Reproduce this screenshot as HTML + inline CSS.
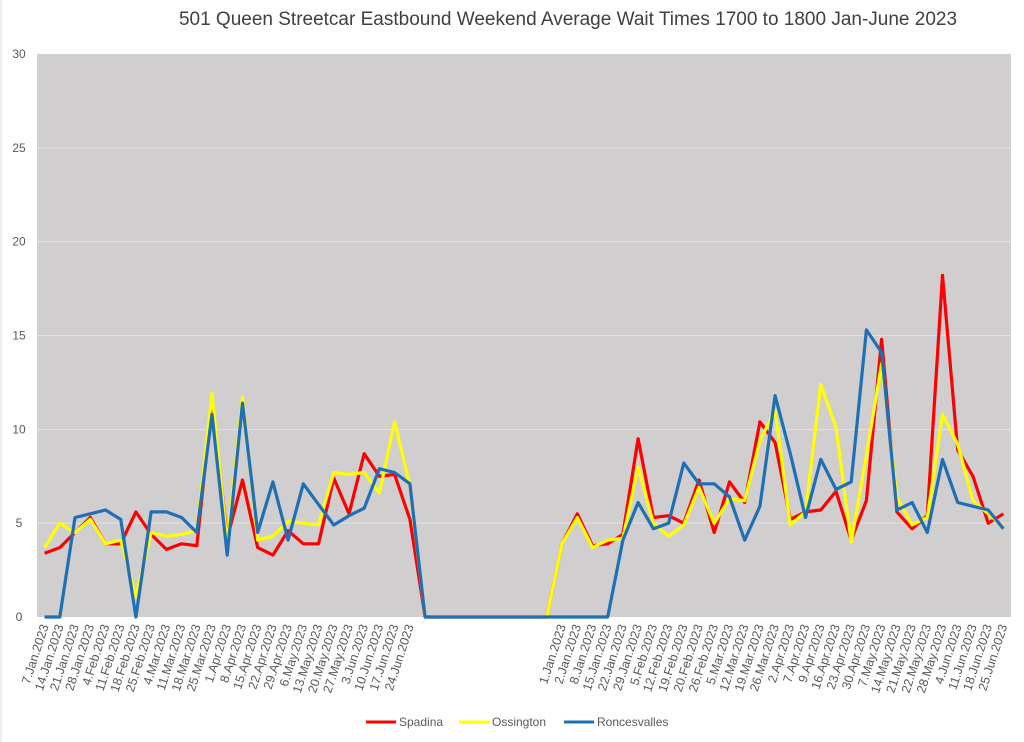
<!DOCTYPE html>
<html><head><meta charset="utf-8"><style>
html,body{margin:0;padding:0;background:#fff;}
svg{display:block;font-family:"Liberation Sans",sans-serif;}
</style></head><body>
<svg id="chart" width="1024" height="742" viewBox="0 0 1024 742">
<rect x="0" y="0" width="1024" height="742" fill="#fff"/>
<line x1="1" y1="0" x2="1" y2="742" stroke="#d9d9d9" stroke-width="1"/>
<text x="568" y="25" text-anchor="middle" font-size="19" fill="#404040">501 Queen Streetcar Eastbound Weekend Average Wait Times 1700 to 1800 Jan-June 2023</text>
<rect x="37" y="54" width="974" height="563" fill="#d0cece"/>
<g id="grid"></g>
<g id="yticks"></g>
<g id="xticks"></g>
<g id="series"></g>
<g>
 <g><line x1="366" y1="722" x2="396" y2="722" stroke="#ff0000" stroke-width="3"/><text x="399" y="726" font-size="12" fill="#595959">Spadina</text></g>
 <g><line x1="459" y1="722" x2="489" y2="722" stroke="#ffff00" stroke-width="3"/><text x="492" y="726" font-size="12" fill="#595959">Ossington</text></g>
 <g><line x1="564" y1="722" x2="594" y2="722" stroke="#1f6fb5" stroke-width="3"/><text x="597" y="726" font-size="12" fill="#595959">Roncesvalles</text></g>
</g>
</svg>
<script>
const categories = ["7.Jan.2023","14.Jan.2023","21.Jan.2023","28.Jan.2023","4.Feb.2023","11.Feb.2023","18.Feb.2023","25.Feb.2023","4.Mar.2023","11.Mar.2023","18.Mar.2023","25.Mar.2023","1.Apr.2023","8.Apr.2023","15.Apr.2023","22.Apr.2023","29.Apr.2023","6.May.2023","13.May.2023","20.May.2023","27.May.2023","3.Jun.2023","10.Jun.2023","17.Jun.2023","24.Jun.2023",
"","","","","","","","","",
"1.Jan.2023","2.Jan.2023","8.Jan.2023","15.Jan.2023","22.Jan.2023","29.Jan.2023","5.Feb.2023","12.Feb.2023","19.Feb.2023","20.Feb.2023","26.Feb.2023","5.Mar.2023","12.Mar.2023","19.Mar.2023","26.Mar.2023","2.Apr.2023","7.Apr.2023","9.Apr.2023","16.Apr.2023","23.Apr.2023","30.Apr.2023","7.May.2023","14.May.2023","21.May.2023","22.May.2023","28.May.2023","4.Jun.2023","11.Jun.2023","18.Jun.2023","25.Jun.2023"];
const spadina = [3.4,3.7,4.5,5.3,3.9,3.9,5.6,4.4,3.6,3.9,3.8,11.5,4.2,7.3,3.7,3.3,4.6,3.9,3.9,7.4,5.5,8.7,7.5,7.6,5.2,
0,0,0,0,0,0,0,0,0,
3.9,5.5,3.8,3.9,4.4,9.5,5.3,5.4,5.0,7.3,4.5,7.2,6.1,10.4,9.3,5.2,5.6,5.7,6.7,4.1,6.2,14.8,5.6,4.7,5.4,18.2,8.9,7.5,5.0,5.5];
const ossington = [3.7,5.0,4.5,5.2,3.9,4.1,1.1,4.5,4.3,4.4,4.6,11.9,3.9,11.7,4.1,4.3,5.1,5.0,4.9,7.7,7.6,7.7,6.6,10.4,7.0,
0,0,0,0,0,0,0,0,0,
3.9,5.3,3.7,4.1,4.2,8.0,5.0,4.3,4.9,6.9,5.0,6.3,6.2,9.4,11.0,4.9,5.6,12.4,10.1,4.0,8.6,13.5,6.4,4.9,5.3,10.8,9.2,6.2,5.5,4.8];
const roncesvalles = [0,0,5.3,5.5,5.7,5.2,0,5.6,5.6,5.3,4.5,10.8,3.3,11.4,4.5,7.2,4.1,7.1,6.0,4.9,5.4,5.8,7.9,7.7,7.1,
0,0,0,0,0,0,0,0,0,
0,0,0,0,4.1,6.1,4.7,5.0,8.2,7.1,7.1,6.4,4.1,5.9,11.8,8.7,5.3,8.4,6.8,7.2,15.3,14.1,5.7,6.1,4.5,8.4,6.1,5.9,5.7,4.7];
const yTicks = [0,5,10,15,20,25,30];

const NS="http://www.w3.org/2000/svg";
const X0=37, X1=1011, Y0=617, Y1=54, YMAX=30;
const step=(X1-X0)/categories.length;
function xScale(i){return X0+step*(i+0.5);}
function yScale(v){return Y0-(v/YMAX)*(Y0-Y1);}
function mk(tag,attrs,parent){const e=document.createElementNS(NS,tag);for(const k in attrs)e.setAttribute(k,attrs[k]);parent.appendChild(e);return e;}

const grid=document.getElementById('grid'), yt=document.getElementById('yticks'), xt=document.getElementById('xticks'), ser=document.getElementById('series');
yTicks.forEach(v=>{
  if(v>0&&v<YMAX){const l=mk('line',{x1:X0,x2:X1,y1:yScale(v),y2:yScale(v),stroke:'#e4e2e2','stroke-width':1},grid);
  
  }
  const t=mk('text',{x:19,y:yScale(v)+4,'text-anchor':'middle','font-size':12,fill:'#595959'},yt);
  t.textContent=String(v);
  
  
});
categories.forEach((c,i)=>{
  if(!c)return;
  const x=xScale(i)+4, y=626;
  const t=mk('text',{x:x,y:y,'text-anchor':'end','font-size':12.5,fill:'#595959',transform:`rotate(-72 ${x} ${y})`},xt);
  t.textContent=c;
  
  
});
[["spadina",spadina,"#ff0000"],["ossington",ossington,"#ffff00"],["roncesvalles",roncesvalles,"#1f6fb5"]].forEach(([n,d,col])=>{
  const pts=d.map((v,i)=>xScale(i).toFixed(1)+","+yScale(v).toFixed(1)).join(" ");
  const p=mk('polyline',{points:pts,fill:'none',stroke:col,'stroke-width':3.2,'stroke-linejoin':'round'},ser);
  
  
});
</script>
</body></html>
